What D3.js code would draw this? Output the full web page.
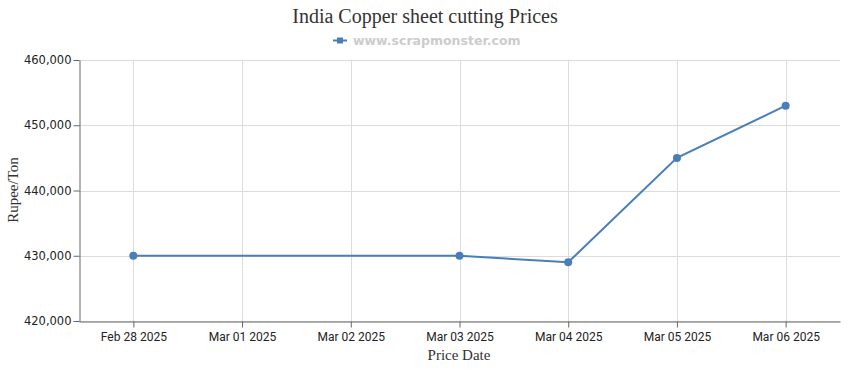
<!DOCTYPE html>
<html><head><meta charset="utf-8">
<script src="https://cdn.jsdelivr.net/npm/d3@7"></script>
<style>body{margin:0;background:#fff}svg{display:block}</style>
</head><body>
<svg id="c" width="850" height="370"></svg>
<script>
const dates = ["2025-02-28","2025-03-03","2025-03-04","2025-03-05","2025-03-06"];
const prices = [430000,430000,429000,445000,453000];
const yTicks = [420000,430000,440000,450000,460000];
const xTickDates = ["2025-02-28","2025-03-01","2025-03-02","2025-03-03","2025-03-04","2025-03-05","2025-03-06"];
const title = "India Copper sheet cutting Prices";
const legendText = "www.scrapmonster.com";

const parse = d3.utcParse("%Y-%m-%d");
const data = dates.map((d,i)=>({date:parse(d), value:prices[i]}));
const svg = d3.select("#c");
const m = {l:79, r:10, t:60, b:49};
const W = 850, H = 370;
const x = d3.scaleUtc()
  .domain([d3.utcHour.offset(parse("2025-02-28"),-12), d3.utcHour.offset(parse("2025-03-06"),12)])
  .range([m.l, W-m.r]);
const y = d3.scaleLinear().domain([420000,460000]).range([H-m.b, m.t]);

// grid
const g = svg.append("g");
g.selectAll(".vg").data(xTickDates.map(parse)).join("line")
  .attr("x1",d=>Math.round(x(d))+0.5).attr("x2",d=>Math.round(x(d))+0.5)
  .attr("y1",m.t).attr("y2",H-m.b).attr("stroke","#dcdcdc");
g.selectAll(".hg").data(yTicks).join("line")
  .attr("x1",m.l).attr("x2",W-m.r)
  .attr("y1",d=>Math.round(y(d))+0.5).attr("y2",d=>Math.round(y(d))+0.5).attr("stroke","#dcdcdc");

// axes
const xAxis = d3.axisBottom(x).tickValues(xTickDates.map(parse)).tickFormat(d3.utcFormat("%b %d %Y")).tickSize(6).tickSizeOuter(0);
const xa = svg.append("g").attr("transform",`translate(0,${H-m.b+0.5})`).call(xAxis);
xa.select(".domain").attr("stroke","#666");
xa.selectAll(".tick line").attr("stroke","#666");
xa.selectAll("text").attr("fill","#222").attr("y",11)
  .style("font-family","'Liberation Sans Narrow','Arial Narrow','Roboto',sans-serif").style("font-size","12px");

const yAxis = d3.axisLeft(y).tickValues(yTicks).tickFormat(d3.format(",")).tickSize(6).tickSizeOuter(0);
const ya = svg.append("g").attr("transform",`translate(${m.l+0.5},0)`).call(yAxis);
ya.select(".domain").attr("stroke","#666");
ya.selectAll(".tick line").attr("stroke","#666");
ya.selectAll("text").attr("fill","#222").attr("x",-8)
  .style("font-family","'DejaVu Sans',Verdana,sans-serif").style("font-size","11.5px");

// line
svg.append("path").datum(data)
  .attr("d", d3.line().x(d=>x(d.date)).y(d=>y(d.value)))
  .attr("fill","none").attr("stroke","#4a7ebb").attr("stroke-width",2);
svg.selectAll(".pt").data(data).join("circle")
  .attr("cx",d=>x(d.date)).attr("cy",d=>y(d.value)).attr("r",4).attr("fill","#4a7ebb");

// title
svg.append("text").attr("x",425).attr("y",23).attr("text-anchor","middle")
  .style("font-family","'Liberation Serif','Times New Roman',serif").style("font-size","20px").attr("fill","#333").text(title);
// legend
const lg = svg.append("g");
lg.append("line").attr("x1",333).attr("x2",347).attr("y1",40.5).attr("y2",40.5).attr("stroke","#4a7ebb").attr("stroke-width",2);
lg.append("rect").attr("x",337).attr("y",37.5).attr("width",6).attr("height",6).attr("fill","#4a7ebb");
lg.append("text").attr("x",353).attr("y",45).style("font-family","'DejaVu Sans',Verdana,sans-serif")
  .style("font-size","12.5px").style("font-weight","bold").attr("fill","#cccccc").text(legendText);

// axis labels
svg.append("text").attr("x",459).attr("y",360).attr("text-anchor","middle")
  .style("font-family","'Liberation Serif','Times New Roman',serif").style("font-size","15px").attr("fill","#333").text("Price Date");
svg.append("text").attr("transform","translate(18,190) rotate(-90)").attr("text-anchor","middle")
  .style("font-family","'Liberation Serif','Times New Roman',serif").style("font-size","15px").attr("fill","#333").text("Rupee/Ton");
</script>
</body></html>
